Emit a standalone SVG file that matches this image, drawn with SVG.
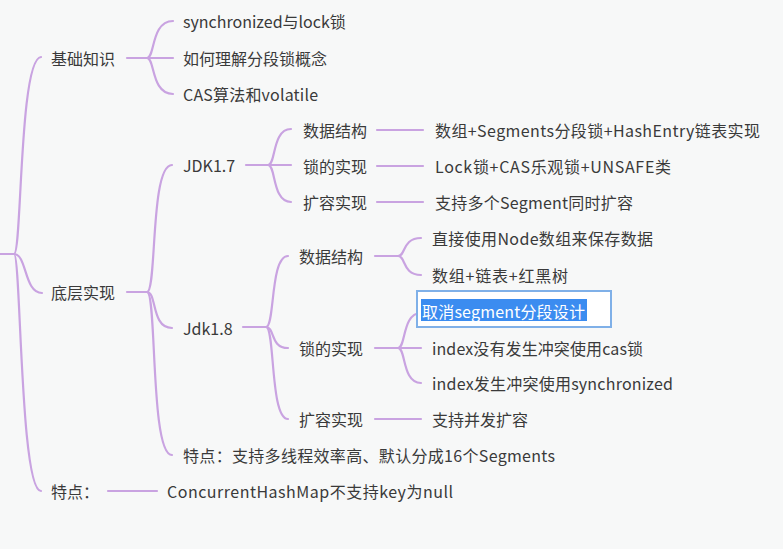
<svg xmlns="http://www.w3.org/2000/svg" width="783" height="549" viewBox="0 0 783 549">
<defs>
<style>
.bg{fill:#f7f8f8}
.c path{fill:none;stroke:#c9a3e1;stroke-width:2.2;stroke-linecap:round}
text{font-family:"Noto Sans CJK SC","Liberation Sans",sans-serif;font-size:16px;fill:#3a3a3a;dominant-baseline:central}
.sel{fill:#ffffff}
</style>
</defs>
<rect class="bg" x="0" y="0" width="783" height="549"/>
<g class="c" id="connectors">
<path d="M0,254 L14,254"/>
<path d="M14,254 C22,254 19,59 41,57"/>
<path d="M14,254 C27,254 24,293 42,293"/>
<path d="M14,254 C21,254 20,491 41,491"/>
<path d="M127,58 L147,58"/>
<path d="M147,58 C155,58 151,21 173,21"/>
<path d="M147,58 L173,58"/>
<path d="M147,58 C155,58 151,94 173,94"/>
<path d="M127,292 L147,292"/>
<path d="M147,292 C157,292 150,165 172,165"/>
<path d="M147,292 C157,292 151,328 172,328"/>
<path d="M147,292 C157,292 150,455 172,455"/>
<path d="M246,165 L268,165"/>
<path d="M268,165 C276,165 272,129 291,129"/>
<path d="M268,165 L291,165"/>
<path d="M268,165 C276,165 272,202 291,202"/>
<path d="M377,130 L423,130"/>
<path d="M377,166 L423,166"/>
<path d="M377,202 L423,202"/>
<path d="M243,327 L266,327"/>
<path d="M266,327 C275,327 270,256 288,256"/>
<path d="M266,327 C275,327 270,348 288,348"/>
<path d="M266,327 C275,327 270,419 288,419"/>
<path d="M375,256 L398,256"/>
<path d="M398,256 C406,256 402,238 421,238"/>
<path d="M398,256 C406,256 402,275 421,275"/>
<path d="M375,348 L398,348"/>
<path d="M398,348 C406,348 402,313 421,313"/>
<path d="M398,348 L421,348"/>
<path d="M398,348 C406,348 402,383 421,383"/>
<path d="M375,419 L421,419"/>
<path d="M108,491 L157,491"/>
</g>
<g id="n-basic"><text x="51" y="58">基础知识</text></g>
<g id="n-sync"><text x="183" y="21">synchronized与lock锁</text></g>
<g id="n-seg"><text x="183" y="58">如何理解分段锁概念</text></g>
<g id="n-cas"><text x="183" y="94" textLength="135" lengthAdjust="spacing">CAS算法和volatile</text></g>
<g id="n-impl"><text x="51" y="292">底层实现</text></g>
<g id="n-jdk17"><text x="183" y="165">JDK1.7</text></g>
<g id="n-17ds"><text x="303" y="130">数据结构</text></g>
<g id="n-17lock"><text x="303" y="166">锁的实现</text></g>
<g id="n-17exp"><text x="303" y="202">扩容实现</text></g>
<g id="n-17ds-v"><text x="435" y="130" textLength="325" lengthAdjust="spacing">数组+Segments分段锁+HashEntry链表实现</text></g>
<g id="n-17lock-v"><text x="435" y="166" textLength="236" lengthAdjust="spacing">Lock锁+CAS乐观锁+UNSAFE类</text></g>
<g id="n-17exp-v"><text x="435" y="202" textLength="198" lengthAdjust="spacing">支持多个Segment同时扩容</text></g>
<g id="n-jdk18"><text x="183" y="328">Jdk1.8</text></g>
<g id="n-18ds"><text x="299" y="256">数据结构</text></g>
<g id="n-18lock"><text x="299" y="348">锁的实现</text></g>
<g id="n-18exp"><text x="299" y="419">扩容实现</text></g>
<g id="n-18ds-a"><text x="432" y="238" textLength="221" lengthAdjust="spacing">直接使用Node数组来保存数据</text></g>
<g id="n-18ds-b"><text x="432" y="275" textLength="136" lengthAdjust="spacing">数组+链表+红黑树</text></g>
<g id="n-18lock-a">
<rect x="417" y="291" width="194" height="36" fill="#ffffff" stroke="#7fb0e8" stroke-width="2"/>
<rect x="421" y="299" width="166" height="22" fill="#3b8cf0"/>
<text class="sel" x="422" y="311" textLength="163" lengthAdjust="spacing">取消segment分段设计</text>
</g>
<g id="n-18lock-b"><text x="432" y="348" textLength="211" lengthAdjust="spacing">index没有发生冲突使用cas锁</text></g>
<g id="n-18lock-c"><text x="432" y="383" textLength="241" lengthAdjust="spacing">index发生冲突使用synchronized</text></g>
<g id="n-18exp-v"><text x="432" y="419">支持并发扩容</text></g>
<g id="n-feat17"><text x="183" y="455" textLength="372" lengthAdjust="spacing">特点：支持多线程效率高、默认分成16个Segments</text></g>
<g id="n-feat"><text x="51" y="491">特点：</text></g>
<g id="n-feat-v"><text x="167" y="491" textLength="286" lengthAdjust="spacing">ConcurrentHashMap不支持key为null</text></g>
</svg>
